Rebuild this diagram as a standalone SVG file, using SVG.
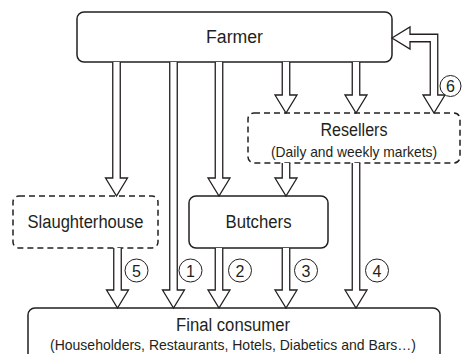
<svg xmlns="http://www.w3.org/2000/svg" width="462" height="354" viewBox="0 0 462 354">
<style>
.box{fill:#fff;stroke:#231f20;stroke-width:1.5}
.dash{fill:#fff;stroke:#231f20;stroke-width:1.5;stroke-dasharray:6 4}
.lbl{font-family:"Liberation Sans",Arial,sans-serif;font-size:18px;fill:#231f20;text-anchor:middle}
.sub{font-family:"Liberation Sans",Arial,sans-serif;font-size:15px;fill:#231f20;text-anchor:middle}
.arr{fill:#fff;stroke:#231f20;stroke-width:1.3;stroke-linejoin:miter}
.num circle{fill:#fff;stroke:#231f20;stroke-width:1}
.num text{font-family:"Liberation Sans",Arial,sans-serif;font-size:16px;fill:#231f20;text-anchor:middle}
</style>
<rect width="462" height="354" fill="#fff"/>
<g id="farmer">
<rect class="box" x="77" y="12" width="315" height="50" rx="7"/>
<text class="lbl" x="234.5" y="43" textLength="57" lengthAdjust="spacingAndGlyphs">Farmer</text>
</g>
<g id="resellers">
<rect class="dash" x="248" y="113" width="212" height="50" rx="6"/>
<text class="lbl" x="354" y="136" textLength="67" lengthAdjust="spacingAndGlyphs">Resellers</text>
<text class="sub" x="354" y="157" textLength="166" lengthAdjust="spacingAndGlyphs">(Daily and weekly markets)</text>
</g>
<g id="slaughterhouse">
<rect class="dash" x="13" y="196" width="145" height="52" rx="6"/>
<text class="lbl" x="85.5" y="228" textLength="116" lengthAdjust="spacingAndGlyphs">Slaughterhouse</text>
</g>
<g id="butchers">
<rect class="box" x="189" y="196" width="139" height="52" rx="7"/>
<text class="lbl" x="258.5" y="228" textLength="66" lengthAdjust="spacingAndGlyphs">Butchers</text>
</g>
<g id="final-consumer">
<rect class="box" x="28" y="308" width="412" height="60" rx="7"/>
<text class="lbl" x="233" y="331" textLength="114" lengthAdjust="spacingAndGlyphs">Final consumer</text>
<text class="sub" x="233" y="350" textLength="366" lengthAdjust="spacingAndGlyphs">(Householders, Restaurants, Hotels, Diabetics and Bars…)</text>
</g>
<g id="connectors">
<path class="arr" d="M112.75 62 V178 H105.5 L116.5 196 L127.5 178 H120.25 V62"/>
<path class="arr" d="M169.75 62 V290 H162.5 L173.5 308 L184.5 290 H177.25 V62"/>
<path class="arr" d="M215.25 62 V178 H208 L219 196 L230 178 H222.75 V62"/>
<path class="arr" d="M282.25 62 V95 H275 L286 113 L297 95 H289.75 V62"/>
<path class="arr" d="M352.25 62 V95 H345 L356 113 L367 95 H359.75 V62"/>
<path class="arr" d="M392 38 L410 27 V34.25 H437.75 V95 H445 L434 113 L423 95 H430.25 V41.75 H410 V49 Z"/>
<path class="arr" d="M282.25 163 V178 H275 L286 196 L297 178 H289.75 V163"/>
<path class="arr" d="M352.25 163 V290 H345 L356 308 L367 290 H359.75 V163"/>
<path class="arr" d="M113.75 248 V290 H106.5 L117.5 308 L128.5 290 H121.25 V248"/>
<path class="arr" d="M215.25 248 V290 H208 L219 308 L230 290 H222.75 V248"/>
<path class="arr" d="M282.25 248 V290 H275 L286 308 L297 290 H289.75 V248"/>
<g class="num">
<circle cx="136.5" cy="270.5" r="11.5"/><text x="136.5" y="276.5">5</text>
<circle cx="190.5" cy="270.5" r="11.5"/><text x="190.5" y="276.5">1</text>
<circle cx="240" cy="270.5" r="11.5"/><text x="240" y="276.5">2</text>
<circle cx="306" cy="270.5" r="11.5"/><text x="306" y="276.5">3</text>
<circle cx="377" cy="270.5" r="11.5"/><text x="377" y="276.5">4</text>
<circle cx="450.5" cy="86" r="10.5"/><text x="450.5" y="92">6</text>
</g>
</g>
</svg>
